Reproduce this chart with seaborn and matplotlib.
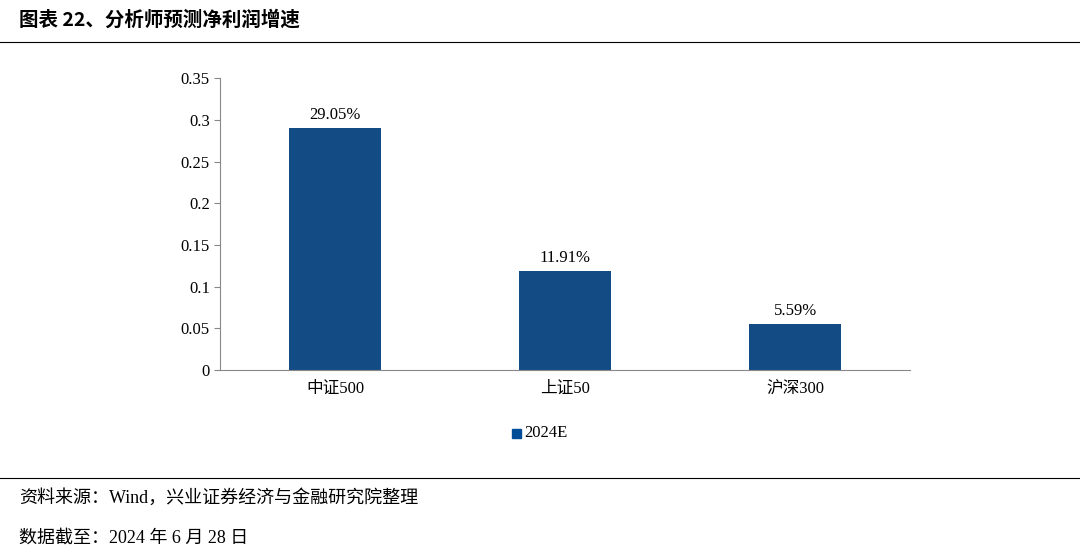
import matplotlib
matplotlib.use("Agg")
import matplotlib.pyplot as plt
import seaborn as sns
import pandas as pd

categories = ["中证500", "上证50", "沪深300"]
values = [0.2905, 0.1191, 0.0559]
labels = ["29.05%", "11.91%", "5.59%"]
yticks = [0, 0.05, 0.1, 0.15, 0.2, 0.25, 0.3, 0.35]
ytick_labels = ["0", "0.05", "0.1", "0.15", "0.2", "0.25", "0.3", "0.35"]
series = "2024E"

plt.rcParams["font.family"] = ["Liberation Serif", "Noto Sans CJK SC"]
df = pd.DataFrame({"cat": categories, "val": values, "s": series})

fig = plt.figure(figsize=(10.8, 5.55), dpi=100)
ax = fig.add_axes([0.204, 0.333, 0.639, 0.526])
sns.barplot(data=df, x="cat", y="val", hue="s", palette=["#004C97"], width=0.4, ax=ax, legend=False)
for i, (v, t) in enumerate(zip(values, labels)):
    ax.text(i, v + 0.006, t, ha="center", va="bottom", fontsize=12)

ax.set_ylim(0, 0.35)
ax.set_xlim(-0.5, 2.5)
ax.set_yticks(yticks)
ax.set_yticklabels(ytick_labels, fontsize=12)
ax.tick_params(axis="x", labelsize=12, length=0, pad=8)
ax.tick_params(axis="y", length=4, direction="out", color="#888888")
ax.set_xlabel("")
ax.set_ylabel("")
for s in ["top", "right"]:
    ax.spines[s].set_visible(False)
for s in ["left", "bottom"]:
    ax.spines[s].set_color("#888888")

# legend
fig.patches.append(plt.Rectangle((0.4745, 0.211), 0.0075, 0.016, transform=fig.transFigure, color="#004C97"))
fig.text(0.485, 0.219, series, fontsize=12, va="center")

# title and footer
fig.text(0.018, 0.965, "图表 22、分析师预测净利润增速", fontsize=14, fontweight="bold",
         va="center", family=["Noto Sans CJK SC"])
fig.add_artist(plt.Line2D([0, 1], [0.924, 0.924], color="black", lw=0.8))
fig.add_artist(plt.Line2D([0, 1], [0.138, 0.138], color="black", lw=0.8))
fig.text(0.018, 0.103, "资料来源：Wind，兴业证券经济与金融研究院整理", fontsize=13, va="center")
fig.text(0.018, 0.030, "数据截至：2024 年 6 月 28 日", fontsize=13, va="center")

fig.savefig("out.png", dpi=100)
